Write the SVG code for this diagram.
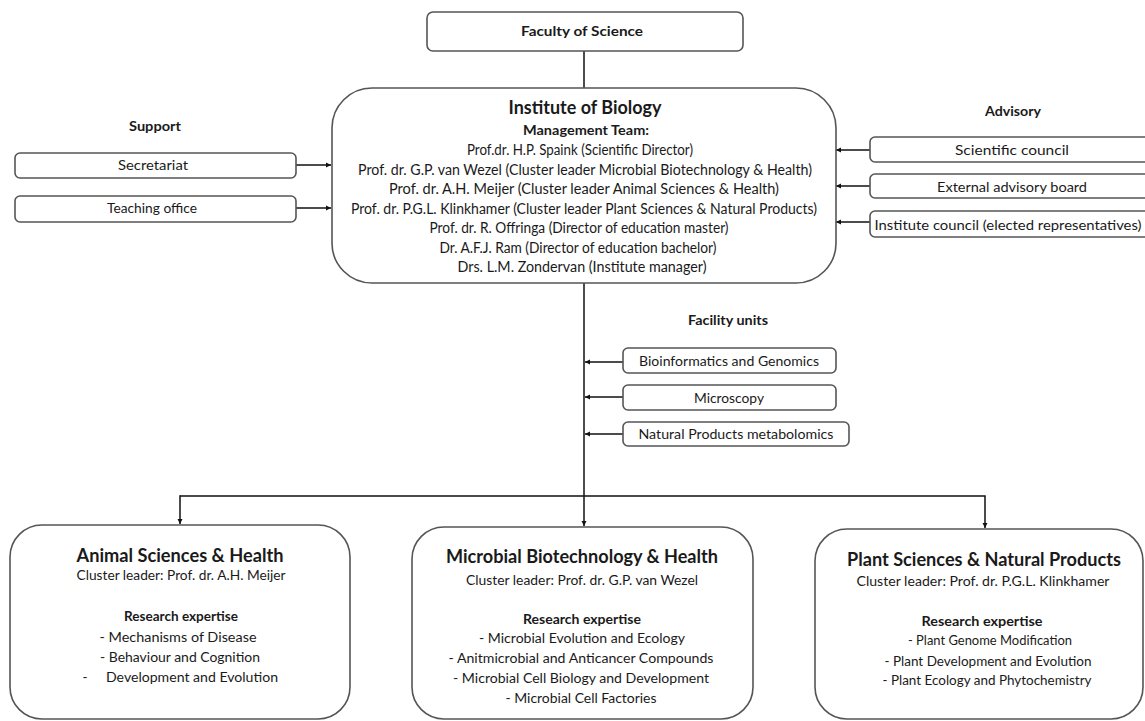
<svg xmlns="http://www.w3.org/2000/svg" width="1145" height="721" viewBox="0 0 1145 721">
<defs>
<marker id="ah" markerWidth="6" markerHeight="6" refX="5" refY="3" orient="auto" markerUnits="userSpaceOnUse">
<path d="M0,0.5 L5,3 L0,5.5 Z" fill="#111"/>
</marker>
<style>
text{font-family:Lato,"Liberation Sans",sans-serif;fill:#1a1a1a;text-anchor:middle}
.box{fill:#fff;stroke:#555;stroke-width:1.6}
.con{fill:none;stroke:#111;stroke-width:1.5}
.b{font-weight:bold}
.t13{font-size:14.5px}
.t12{font-size:13.5px}
.t14{font-size:14px}
.h16{font-size:18px;font-weight:bold}
</style>
</defs>
<rect width="1145" height="721" fill="#fff"/>

<g id="connectors">
<line class="con" x1="584" y1="51" x2="584" y2="88"/>
<line class="con" x1="296" y1="165" x2="331" y2="165" marker-end="url(#ah)"/>
<line class="con" x1="296" y1="208" x2="331" y2="208" marker-end="url(#ah)"/>
<line class="con" x1="870" y1="150" x2="836" y2="150" marker-end="url(#ah)"/>
<line class="con" x1="870" y1="186" x2="836" y2="186" marker-end="url(#ah)"/>
<line class="con" x1="870" y1="222" x2="836" y2="222" marker-end="url(#ah)"/>
<line class="con" x1="584" y1="283" x2="584" y2="526" marker-end="url(#ah)"/>
<line class="con" x1="623" y1="362" x2="585" y2="362" marker-end="url(#ah)"/>
<line class="con" x1="623" y1="397" x2="585" y2="397" marker-end="url(#ah)"/>
<line class="con" x1="623" y1="434" x2="585" y2="434" marker-end="url(#ah)"/>
<polyline class="con" points="180,496 985,496 985,528" marker-end="url(#ah)"/>
<line class="con" x1="180" y1="495.25" x2="180" y2="524" marker-end="url(#ah)"/>
</g>

<g id="faculty">
<rect class="box" x="427" y="12" width="316" height="39" rx="6"/>
<text class="t12 b" x="582" y="36" textLength="122" lengthAdjust="spacingAndGlyphs">Faculty of Science</text>
</g>

<g id="institute">
<rect class="box" x="332" y="88" width="504" height="195" rx="40"/>
<text class="h16" x="585" y="114" textLength="153" lengthAdjust="spacingAndGlyphs">Institute of Biology</text>
<text class="t12 b" x="586" y="135" textLength="126" lengthAdjust="spacingAndGlyphs">Management Team:</text>
<text class="t13" x="580" y="155" textLength="226" lengthAdjust="spacingAndGlyphs">Prof.dr. H.P. Spaink (Scientific Director)</text>
<text class="t13" x="585" y="175" textLength="454" lengthAdjust="spacingAndGlyphs">Prof. dr. G.P. van Wezel (Cluster leader Microbial Biotechnology &amp; Health)</text>
<text class="t13" x="584" y="194" textLength="390" lengthAdjust="spacingAndGlyphs">Prof. dr. A.H. Meijer (Cluster leader Animal Sciences &amp; Health)</text>
<text class="t13" x="584" y="214" textLength="466" lengthAdjust="spacingAndGlyphs">Prof. dr. P.G.L. Klinkhamer (Cluster leader Plant Sciences &amp; Natural Products)</text>
<text class="t13" x="579" y="233" textLength="299" lengthAdjust="spacingAndGlyphs">Prof. dr. R. Offringa (Director of education master)</text>
<text class="t13" x="578" y="253" textLength="277" lengthAdjust="spacingAndGlyphs">Dr. A.F.J. Ram (Director of education bachelor)</text>
<text class="t13" x="582" y="272" textLength="249" lengthAdjust="spacingAndGlyphs">Drs. L.M. Zondervan (Institute manager)</text>
</g>

<g id="support-label"><text class="t12 b" x="155" y="131" textLength="52" lengthAdjust="spacingAndGlyphs">Support</text></g>
<g id="secretariat">
<rect class="box" x="15" y="153" width="281" height="25" rx="5"/>
<text class="t14" x="153" y="170" textLength="70" lengthAdjust="spacingAndGlyphs">Secretariat</text>
</g>
<g id="teaching-office">
<rect class="box" x="15" y="196" width="281" height="26" rx="5"/>
<text class="t14" x="152" y="213" textLength="90" lengthAdjust="spacingAndGlyphs">Teaching office</text>
</g>

<g id="advisory-label"><text class="t12 b" x="1013" y="116" textLength="56" lengthAdjust="spacingAndGlyphs">Advisory</text></g>
<g id="scientific-council">
<rect class="box" x="870" y="137" width="290" height="25" rx="5"/>
<text class="t14" x="1012" y="155" textLength="114" lengthAdjust="spacingAndGlyphs">Scientific council</text>
</g>
<g id="external-advisory-board">
<rect class="box" x="870" y="174" width="290" height="24" rx="5"/>
<text class="t14" x="1012" y="192" textLength="150" lengthAdjust="spacingAndGlyphs">External advisory board</text>
</g>
<g id="institute-council">
<rect class="box" x="870" y="211" width="290" height="26" rx="5"/>
<text class="t14" x="1008" y="230" textLength="267" lengthAdjust="spacingAndGlyphs">Institute council (elected representatives)</text>
</g>

<g id="facility-label"><text class="t12 b" x="728" y="325" textLength="80" lengthAdjust="spacingAndGlyphs">Facility units</text></g>
<g id="bioinformatics">
<rect class="box" x="623" y="348" width="213" height="25" rx="5"/>
<text class="t14" x="729" y="366" textLength="180" lengthAdjust="spacingAndGlyphs">Bioinformatics and Genomics</text>
</g>
<g id="microscopy">
<rect class="box" x="623" y="385" width="213" height="25" rx="5"/>
<text class="t14" x="729" y="403" textLength="70" lengthAdjust="spacingAndGlyphs">Microscopy</text>
</g>
<g id="natural-products">
<rect class="box" x="623" y="422" width="226" height="24" rx="5"/>
<text class="t14" x="736" y="439" textLength="195" lengthAdjust="spacingAndGlyphs">Natural Products metabolomics</text>
</g>

<g id="animal-sciences">
<rect class="box" x="10" y="525" width="340" height="194" rx="32"/>
<text class="h16" x="180" y="562" textLength="207" lengthAdjust="spacingAndGlyphs">Animal Sciences &amp; Health</text>
<text class="t12" x="181" y="580" textLength="209" lengthAdjust="spacingAndGlyphs">Cluster leader: Prof. dr. A.H. Meijer</text>
<text class="t12 b" x="181" y="621" textLength="114" lengthAdjust="spacingAndGlyphs">Research expertise</text>
<text class="t12" x="178" y="642" textLength="157" lengthAdjust="spacingAndGlyphs">- Mechanisms of Disease</text>
<text class="t12" x="180" y="662" textLength="160" lengthAdjust="spacingAndGlyphs">- Behaviour and Cognition</text>
<text class="t12" x="85" y="682">-</text>
<text class="t12" x="192" y="682" textLength="172" lengthAdjust="spacingAndGlyphs">Development and Evolution</text>
</g>

<g id="microbial-biotechnology">
<rect class="box" x="412" y="527" width="341" height="192" rx="32"/>
<text class="h16" x="582" y="563" textLength="272" lengthAdjust="spacingAndGlyphs">Microbial Biotechnology &amp; Health</text>
<text class="t12" x="582" y="585" textLength="232" lengthAdjust="spacingAndGlyphs">Cluster leader: Prof. dr. G.P. van Wezel</text>
<text class="t12 b" x="582" y="624" textLength="118" lengthAdjust="spacingAndGlyphs">Research expertise</text>
<text class="t12" x="582" y="643" textLength="206" lengthAdjust="spacingAndGlyphs">- Microbial Evolution and Ecology</text>
<text class="t12" x="581" y="663" textLength="265" lengthAdjust="spacingAndGlyphs">- Anitmicrobial and Anticancer Compounds</text>
<text class="t12" x="581" y="683" textLength="256" lengthAdjust="spacingAndGlyphs">- Microbial Cell Biology and Development</text>
<text class="t12" x="581" y="703" textLength="151" lengthAdjust="spacingAndGlyphs">- Microbial Cell Factories</text>
</g>

<g id="plant-sciences">
<rect class="box" x="815" y="529" width="328" height="190" rx="32"/>
<text class="h16" x="984" y="566" textLength="274" lengthAdjust="spacingAndGlyphs">Plant Sciences &amp; Natural Products</text>
<text class="t12" x="983" y="586" textLength="253" lengthAdjust="spacingAndGlyphs">Cluster leader: Prof. dr. P.G.L. Klinkhamer</text>
<text class="t12 b" x="982" y="626" textLength="121" lengthAdjust="spacingAndGlyphs">Research expertise</text>
<text class="t12" x="990" y="645" textLength="164" lengthAdjust="spacingAndGlyphs">- Plant Genome Modification</text>
<text class="t12" x="988" y="666" textLength="207" lengthAdjust="spacingAndGlyphs">- Plant Development and Evolution</text>
<text class="t12" x="987" y="685" textLength="209" lengthAdjust="spacingAndGlyphs">- Plant Ecology and Phytochemistry</text>
</g>
</svg>
